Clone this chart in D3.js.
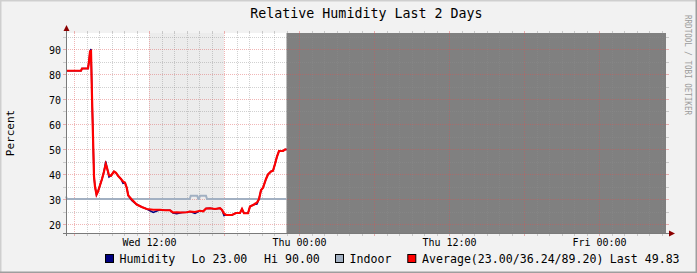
<!DOCTYPE html>
<html>
<head>
<meta charset="utf-8">
<script src="https://cdn.jsdelivr.net/npm/d3@7"></script>
<style>
  html, body { margin: 0; padding: 0; background: #f2f2f2; }
  svg { display: block; font-family: 'DejaVu Sans Mono', monospace; }
</style>
</head>
<body>
<svg width="697" height="273"></svg>
<script>
const title = 'Relative Humidity Last 2 Days';
const yLabel = 'Percent';
const watermark = 'RRDTOOL / TOBI OETIKER';

// hours after Wed 00:00
const hours = [
    5.36, 6.56, 6.64, 7.12, 7.2, 7.28, 7.36, 7.44, 7.52, 7.6,
    7.68, 7.8, 7.92, 8.08, 8.24, 8.4, 8.54, 8.64, 8.8, 8.96,
    9.2, 9.36, 9.52, 9.76, 9.92, 10.08, 10.22, 10.34, 10.62, 11.02,
    11.42, 11.82, 12.34, 12.88, 13.28, 13.68, 13.92, 14.22, 14.64, 15.02,
    15.28, 15.68, 16.08, 16.34, 16.56, 16.88, 17.28, 17.68, 17.84, 18.0,
    18.16, 18.64, 18.96, 19.28, 19.44, 19.6, 19.92, 20.08, 20.4, 20.64,
    20.8, 20.96, 21.12, 21.36, 21.52, 21.76, 21.92, 22.08, 22.24, 22.4,
    22.72, 22.88, 23.0,
];
const humidity = [
    81.3, 81.3, 82.2, 82.2, 85, 89, 90, 71, 55, 39,
    35, 31.6, 33, 35.5, 38, 41, 45, 42.5, 38.8, 39.3,
    41, 40.5, 39.3, 38, 36.3, 36.5, 34.5, 31.4, 29.4, 27.8,
    26.8, 26, 24.6, 25.7, 25.5, 25.5, 24.4, 24.1, 24.6, 24.7,
    25, 24.2, 25.3, 25.1, 26.2, 26.3, 26, 26.3, 25.6, 23.4,
    23.6, 23.6, 24.4, 24.4, 26, 24.3, 24.3, 27, 27.8, 28,
    30, 33.5, 34.5, 38, 39.8, 41, 41.3, 44, 47, 49.2,
    49.2, 49.8, 49.83,
];
const average = [
    81.3, 81.3, 82.2, 82.2, 85, 89, 89.2, 71, 55, 39,
    35, 31.8, 33, 35.5, 38, 41, 44, 42.5, 39.5, 39.3,
    41, 40.5, 39.3, 38, 37, 36.5, 34.5, 31.4, 29.8, 27.8,
    26.8, 26, 25.7, 25.7, 25.5, 25.5, 24.6, 24.7, 24.6, 24.7,
    25, 24.8, 25.3, 25.1, 26.2, 26.3, 26, 26.3, 25.6, 24.2,
    23.6, 23.6, 24.4, 24.4, 26, 24.3, 24.3, 27, 27.8, 28.6,
    30, 33.5, 34.5, 38, 39.8, 41, 41.3, 44, 47, 49.2,
    49.2, 49.8, 49.83,
];
const indoorHours = [5.36, 5.44, 15.26, 15.34, 15.86, 15.94, 16.0, 16.08, 16.56, 16.64, 23.0];
const indoor = [31, 30, 30, 31.3, 31.3, 30, 30, 31.3, 31.3, 30, 30];

const shadeHours = [12, 18];
const yTicks = [20, 30, 40, 50, 60, 70, 80, 90];
const legendNames = ['Humidity', 'Indoor', 'Average(23.00/36.24/89.20)'];
const legendStats = [['Lo 23.00', 'Hi 90.00'], [], ['Last 49.83']];

const colors = ['#000080', '#a2b0c2', '#ff0000'];

const W = 697;
const H = 273;
const plot = { left: 66, right: 666, top: 33, bottom: 233 };

const svg = d3.select('svg');
const wed = new Date(2014, 0, 15, 0, 0);
const at = h => new Date(wed.getTime() + h * 3600e3);
const start = at(5.36);
const end = d3.timeHour.offset(start, 48);

const x = d3.scaleTime().domain([start, end]).range([plot.left, plot.right]);
const y = d3.scaleLinear().domain([16.4, 96.4]).range([plot.bottom, plot.top]);

// background and frame shades
svg.append('rect').attr('width', W).attr('height', H).attr('fill', '#f2f2f2');
svg.append('path').attr('d', `M0,${H} V0 H${W}`).attr('fill', 'none')
    .attr('stroke', '#cfcfcf').attr('stroke-width', 3);
svg.append('path').attr('d', `M${W},0 V${H} H0`).attr('fill', 'none')
    .attr('stroke', '#9e9e9e').attr('stroke-width', 3);

svg.append('rect')
    .attr('x', plot.left).attr('y', plot.top)
    .attr('width', plot.right - plot.left).attr('height', plot.bottom - plot.top)
    .attr('fill', '#fff');

svg.append('rect')
    .attr('x', x(at(shadeHours[0]))).attr('y', plot.top)
    .attr('width', x(at(shadeHours[1])) - x(at(shadeHours[0])))
    .attr('height', plot.bottom - plot.top)
    .attr('fill', '#ececec');

const lastT = at(hours[hours.length - 1]);
svg.append('rect')
    .attr('x', x(lastT)).attr('y', plot.top)
    .attr('width', plot.right - x(lastT)).attr('height', plot.bottom - plot.top)
    .attr('fill', '#808080');

// grid
const minorCol = 'rgba(140,140,140,0.4)';
const majorCol = 'rgba(222,80,80,0.42)';
const grid = svg.append('g').attr('stroke-width', 1).attr('fill', 'none');

const hourTicks = x.ticks(d3.timeHour.every(1));
hourTicks.forEach((t) => {
    const major = t.getHours() % 6 === 0;
    const px = Math.round(x(t)) + 0.5;
    const c = major ? majorCol : minorCol;
    grid.append('line').attr('x1', px).attr('x2', px)
        .attr('y1', plot.top).attr('y2', plot.bottom)
        .attr('stroke', c).attr('stroke-dasharray', '1,1');
    grid.append('line').attr('x1', px).attr('x2', px)
        .attr('y1', plot.top - 2).attr('y2', plot.top).attr('stroke', c);
    grid.append('line').attr('x1', px).attr('x2', px)
        .attr('y1', plot.bottom).attr('y2', plot.bottom + 3).attr('stroke', c);
});

d3.range(20, 96, 5).forEach((v) => {
    const major = v % 10 === 0;
    const py = Math.round(y(v)) + 0.5;
    const c = major ? majorCol : minorCol;
    grid.append('line').attr('y1', py).attr('y2', py)
        .attr('x1', plot.left).attr('x2', plot.right)
        .attr('stroke', c).attr('stroke-dasharray', '1,1');
    grid.append('line').attr('y1', py).attr('y2', py)
        .attr('x1', plot.left - 3).attr('x2', plot.left).attr('stroke', c);
    grid.append('line').attr('y1', py).attr('y2', py)
        .attr('x1', plot.right).attr('x2', plot.right + 3).attr('stroke', c);
});

// series
const line = d3.line()
    .x(d => x(d[0]))
    .y(d => y(d[1]));

svg.append('path')
    .datum(indoorHours.map((h, i) => [at(h), indoor[i]]))
    .attr('d', line).attr('fill', 'none')
    .attr('stroke', colors[1]).attr('stroke-width', 2);

svg.append('path')
    .datum(hours.map((h, i) => [at(h), humidity[i]]))
    .attr('d', line).attr('fill', 'none')
    .attr('stroke', colors[0]).attr('stroke-width', 1.5);

svg.append('path')
    .datum(hours.map((h, i) => [at(h), average[i]]))
    .attr('d', line).attr('fill', 'none')
    .attr('stroke', colors[2]).attr('stroke-width', 2.2);

// axes lines and arrows
const axisCol = '#7a7a7a';
svg.append('line').attr('x1', plot.left + 0.5).attr('x2', plot.left + 0.5)
    .attr('y1', plot.bottom + 3).attr('y2', plot.top - 4)
    .attr('stroke', axisCol);
svg.append('line').attr('x1', plot.left - 3).attr('x2', plot.right + 4)
    .attr('y1', plot.bottom + 0.5).attr('y2', plot.bottom + 0.5)
    .attr('stroke', axisCol);
svg.append('path')
    .attr('d', `M${plot.left - 2.5},${plot.top - 2} L${plot.left + 3.5},${plot.top - 2} L${plot.left + 0.5},${plot.top - 8}Z`)
    .attr('fill', '#8b0000');
svg.append('path')
    .attr('d', `M${plot.right + 3},${plot.bottom - 2.5} L${plot.right + 3},${plot.bottom + 3.5} L${plot.right + 9},${plot.bottom + 0.5}Z`)
    .attr('fill', '#8b0000');

// tick labels
const xAxis = svg.append('g')
    .attr('transform', 'translate(0,246)')
    .call(d3.axisBottom(x)
        .ticks(d3.timeHour.every(12))
        .tickFormat(d3.timeFormat('%a %H:%M'))
        .tickSize(0).tickPadding(0));
xAxis.select('.domain').remove();
xAxis.selectAll('text').attr('dy', 0).attr('y', 0)
    .attr('font-size', '10px').attr('font-family', 'DejaVu Sans Mono').attr('fill', '#000');

const yAxis = svg.append('g')
    .attr('transform', 'translate(61,0.5)')
    .call(d3.axisLeft(y).tickValues(yTicks).tickSize(0).tickPadding(0));
yAxis.select('.domain').remove();
yAxis.selectAll('text').attr('dy', '0.35em')
    .attr('font-size', '10px').attr('font-family', 'DejaVu Sans Mono').attr('fill', '#000');

// titles
svg.append('text')
    .attr('x', 366.4).attr('y', 18)
    .attr('text-anchor', 'middle')
    .attr('font-size', '13.3px')
    .text(title);

svg.append('text')
    .attr('transform', 'translate(14,133) rotate(-90)')
    .attr('text-anchor', 'middle')
    .attr('font-size', '11px')
    .text(yLabel);

svg.append('text')
    .attr('transform', 'translate(684.5,15) rotate(90)')
    .attr('font-size', '8.5px')
    .attr('fill', '#9c9c9c')
    .attr('textLength', 100)
    .attr('lengthAdjust', 'spacingAndGlyphs')
    .text(watermark);

// legend
const swatchX = [105, 335, 407.3];
const nameX = [119.5, 349.5, 422];
const statX = [[191.5, 264], [], [609.8]];
const legendY = 263;

legendNames.forEach((name, i) => {
    svg.append('rect')
        .attr('x', swatchX[i] + 0.5).attr('y', 254.5)
        .attr('width', 8).attr('height', 8)
        .attr('fill', colors[i]).attr('stroke', '#000');
    svg.append('text')
        .attr('x', nameX[i]).attr('y', legendY)
        .attr('font-size', '11.6px')
        .text(name);
    legendStats[i].forEach((s, j) => {
        svg.append('text')
            .attr('x', statX[i][j]).attr('y', legendY)
            .attr('font-size', '11.6px')
            .text(s);
    });
});
</script>
</body>
</html>
